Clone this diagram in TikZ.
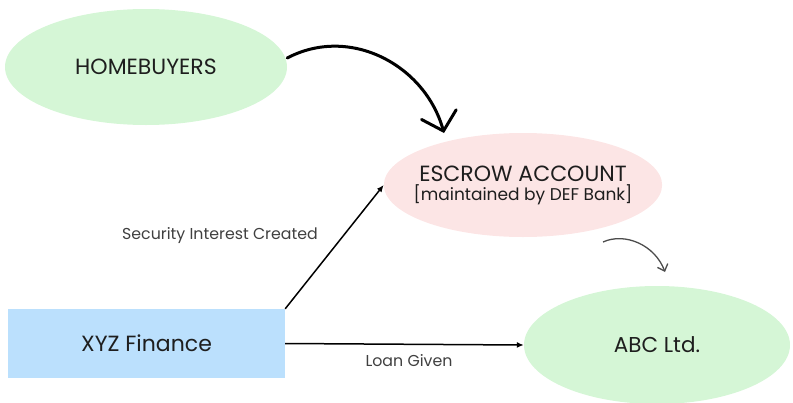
\documentclass[tikz,border=0pt]{standalone}
\usepackage{fontspec}
\setmainfont{Poppins}
\usetikzlibrary{shapes.geometric,arrows.meta,calc}
\definecolor{lgreen}{RGB}{213,246,214}
\definecolor{lpink}{RGB}{252,229,229}
\definecolor{lblue}{RGB}{187,224,253}
\definecolor{txt}{RGB}{30,30,30}
\tikzset{
  ell/.style={ellipse, draw=none, inner sep=0pt, text=txt},
  conn/.style={draw=black, line width=1.5pt, -{Latex[length=7pt,width=6pt]}},
  lbl/.style={font=\fontsize{15.8}{18}\selectfont, text=txt!85}
}
\begin{document}
\begin{tikzpicture}[x=1pt,y=-1pt]
\useasboundingbox (0,0) rectangle (793,402);
\node[ell, fill=lgreen, minimum width=282, minimum height=116, font=\fontsize{22}{26}\selectfont] (hb) at (146,67) {HOMEBUYERS};
\node[ell, fill=lpink, inner xsep=-11pt, inner ysep=0pt, minimum width=277, minimum height=104, align=center] (esc) at (523,185)
  {{\fontsize{22}{24}\selectfont ESCROW ACCOUNT}\\[2pt]{\fontsize{17}{18}\selectfont [maintained by DEF Bank]}};
\node[ell, fill=lgreen, minimum width=266, minimum height=118, font=\fontsize{21.5}{26}\selectfont] (abc) at (657,345) {ABC Ltd.};
\node[draw=none, fill=lblue, minimum width=277, minimum height=69, inner sep=0pt, text=txt, font=\fontsize{22}{26}\selectfont] (xyz) at (146.5,343.5) {XYZ Finance};
\coordinate (c1) at (444,133);
\coordinate (s2) at (603,242);
\coordinate (e2) at (665,272);
\draw[line width=3pt, line cap=round, -{Straight Barb[length=17pt,width=36pt,line cap=round]}]
  (hb.east |- 0,58) .. controls (350,25) and (425,65) .. (c1);
\draw[line width=1.3pt, draw=black!70, -{Straight Barb[length=6pt,width=11pt]}]
  (s2) .. controls (625,232) and (655,245) .. (e2);
\draw[conn] (xyz.north east) -- (esc.west);
\draw[conn] (xyz.east) -- (abc.west);
\node[lbl] (l1) at (220,236) {Security Interest Created};
\node[lbl] (l2) at (409,361) {Loan Given};
\end{tikzpicture}
\end{document}
